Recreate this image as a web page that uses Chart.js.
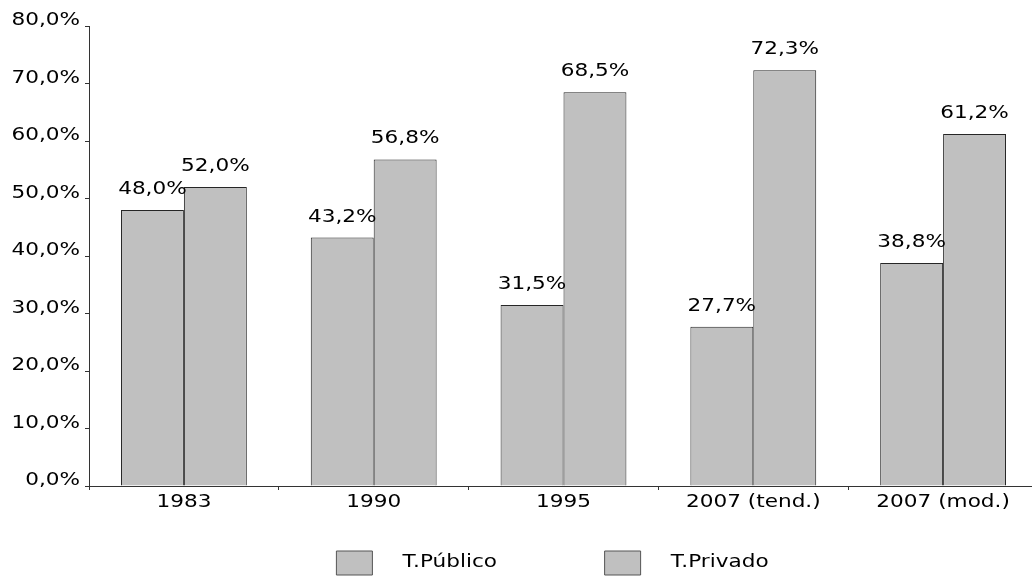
<!DOCTYPE html>
<html>
<head>
<meta charset="utf-8">
<script src="https://cdn.jsdelivr.net/npm/chart.js@4.4.1/dist/chart.umd.min.js"></script>
<style>
  html, body { margin: 0; padding: 0; background: #ffffff; overflow: hidden; }
  #wrap { width: 1032px; height: 576px; overflow: hidden; }
  canvas { display: block; }
</style>
</head>
<body>
<div id="wrap"><canvas id="c" width="1040" height="585"></canvas></div>
<script>
const categories = ['1983', '1990', '1995', '2007 (tend.)', '2007 (mod.)'];
const publico = [48.0, 43.2, 31.5, 27.7, 38.8];
const privado = [52.0, 56.8, 68.5, 72.3, 61.2];
const seriesNames = ['T.Público', 'T.Privado'];
const yTicks = [0, 10, 20, 30, 40, 50, 60, 70, 80];

const FONT = 'DejaVu Sans';
const FSIZE = 17;
const K = 1.27; // horizontal stretch of the text, as in the reference
const fmt = v => v.toFixed(1).replace('.', ',') + '%';

// Widen the glyphs horizontally (text stays real text)
const canvas = document.getElementById('c');
const ctx0 = canvas.getContext('2d');
const origFill = CanvasRenderingContext2D.prototype.fillText;
const origMeasure = CanvasRenderingContext2D.prototype.measureText;
ctx0.fillText = function (t, x, y, maxW) {
  this.save();
  this.translate(x, y);
  this.scale(K, 1);
  if (maxW === undefined) origFill.call(this, t, 0, 0);
  else origFill.call(this, t, 0, 0, maxW / K);
  this.restore();
};
ctx0.measureText = function (t) {
  const m = origMeasure.call(this, t);
  return {
    width: m.width * K,
    actualBoundingBoxLeft: m.actualBoundingBoxLeft * K,
    actualBoundingBoxRight: m.actualBoundingBoxRight * K,
    actualBoundingBoxAscent: m.actualBoundingBoxAscent,
    actualBoundingBoxDescent: m.actualBoundingBoxDescent,
    fontBoundingBoxAscent: m.fontBoundingBoxAscent,
    fontBoundingBoxDescent: m.fontBoundingBoxDescent
  };
};

const valueLabels = {
  id: 'valueLabels',
  afterDatasetsDraw(chart) {
    const ctx = chart.ctx;
    ctx.save();
    ctx.font = FSIZE + 'px "' + FONT + '"';
    ctx.fillStyle = '#000000';
    ctx.textAlign = 'center';
    ctx.textBaseline = 'alphabetic';
    chart.data.datasets.forEach((ds, i) => {
      chart.getDatasetMeta(i).data.forEach((bar, j) => {
        ctx.fillText(fmt(ds.data[j]), bar.x, bar.y - 16);
      });
    });
    ctx.restore();
  }
};

const EN = '\u2002';
const THIN = '\u2009';
new Chart(canvas, {
  type: 'bar',
  data: {
    labels: categories,
    datasets: [
      { label: seriesNames[0], data: publico, backgroundColor: '#c0c0c0', borderColor: '#262626', borderWidth: 1 },
      { label: seriesNames[1], data: privado, backgroundColor: '#c0c0c0', borderColor: '#262626', borderWidth: 1 }
    ]
  },
  options: {
    responsive: false,
    animation: false,
    devicePixelRatio: 1,
    layout: { padding: { top: 26, right: 2, left: 0, bottom: 0 } },
    datasets: { bar: { barPercentage: 1.0, categoryPercentage: 0.663 } },
    scales: {
      x: {
        grid: { offset: true, drawOnChartArea: false, tickLength: 4, color: '#333333' },
        border: { color: '#333333', width: 1 },
        ticks: { color: '#000000', font: { family: FONT, size: FSIZE }, padding: 2, maxRotation: 0 },
        afterFit(scale) { scale.height = 55; }
      },
      y: {
        min: 0, max: 80,
        afterBuildTicks(scale) { scale.ticks = yTicks.map(v => ({ value: v })); },
        grid: { drawOnChartArea: false, tickLength: 4, color: '#333333' },
        border: { color: '#333333', width: 1 },
        ticks: { color: '#000000', font: { family: FONT, size: FSIZE }, padding: 5, labelOffset: -5,
          callback: v => fmt(v) },
        afterFit(scale) { scale.width = 89; }
      }
    },
    plugins: {
      tooltip: { enabled: false },
      legend: {
        position: 'bottom',
        fullSize: false,
        labels: {
          color: '#000000',
          font: { family: FONT, size: FSIZE },
          boxWidth: 36,
          boxHeight: 24,
          padding: 10,
          generateLabels(chart) {
            return chart.data.datasets.map((ds, i) => ({
              text: EN + EN + ds.label + (i === 0 ? EN.repeat(8) + ' ' + THIN : EN + ' ' + THIN),
              fillStyle: ds.backgroundColor,
              strokeStyle: '#555555',
              lineWidth: 1,
              fontColor: '#000000',
              datasetIndex: i,
              hidden: false
            }));
          }
        }
      }
    }
  },
  plugins: [valueLabels]
});
</script>
</body>
</html>
